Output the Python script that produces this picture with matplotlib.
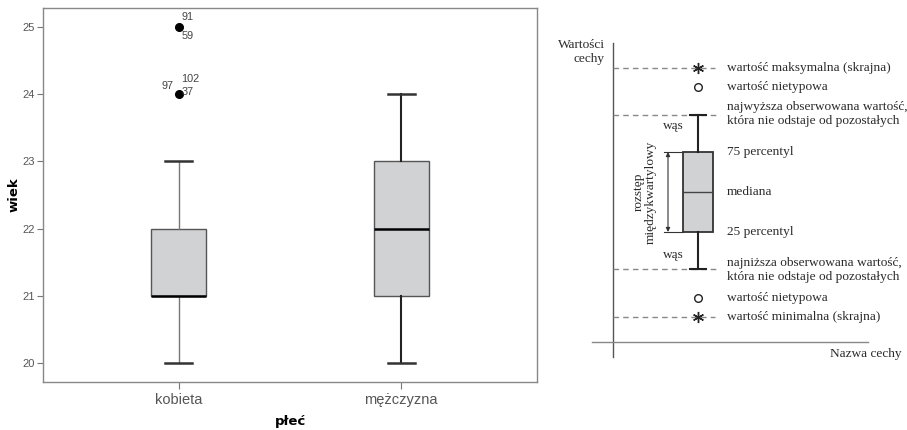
import numpy as np
import matplotlib.pyplot as plt
from matplotlib.patches import FancyArrowPatch

# dane wykresu pudełkowego (wiek wg płci)
kategorie = ["kobieta", "mężczyzna"]
min_wasy = [20, 20]
q1 = [21, 21]
mediany = [21, 22]
q3 = [22, 23]
max_wasy = [23, 24]
odstajace = [[25, 24], []]
odst_wartosci = [25, 25, 24, 24, 24]
odst_numery = ["91", "59", "102", "37", "97"]
y_ticks = [20, 21, 22, 23, 24, 25]

# schemat (wartości umowne)
sch_min, sch_nt_dol, sch_was_dol = 1.25, 2.2, 3.65
sch_q1, sch_med, sch_q3 = 5.5, 7.5, 9.5
sch_was_gora, sch_nt_gora, sch_max = 11.35, 12.75, 13.7

fig = plt.figure(figsize=(9.07, 4.30), dpi=100)

# --- lewy wykres ---
ax = fig.add_axes([43/907, 48/430, 494/907, 374/430])
stats = []
for i in range(2):
    stats.append(dict(label=kategorie[i], whislo=min_wasy[i], q1=q1[i], med=mediany[i],
                      q3=q3[i], whishi=max_wasy[i], fliers=odstajace[i]))
bp = ax.bxp(stats, positions=[1, 2], widths=0.247, patch_artist=True, capwidths=0.122,
            boxprops=dict(facecolor="#d1d2d4", edgecolor="#555555", linewidth=1.0),
            medianprops=dict(color="black", linewidth=1.8),
            whiskerprops=dict(color="#222222", linewidth=1.5),
            capprops=dict(color="#333333", linewidth=1.8),
            flierprops=dict(marker="o", markerfacecolor="black", markeredgecolor="black",
                            markersize=5.5))
for w in bp["whiskers"][:2]:
    w.set_color("#777777")
    w.set_linewidth(1.0)

offsety = [(2, 7), (2, -6.5), (2, 11), (2, 1.5), (-4, 6)]
for v, n, off in zip(odst_wartosci, odst_numery, offsety):
    ax.annotate(n, (1, v), xytext=off, textcoords="offset points",
                ha="left" if off[0] > 0 else "right", va="center",
                fontsize=7.8, color="#444444", family="Liberation Sans")

ax.set_xlim(0.389, 2.611)
ax.set_ylim(19.72, 25.28)
ax.set_yticks(y_ticks)
ax.set_yticklabels([str(t) for t in y_ticks], fontsize=8, color="#555555",
                   family="Liberation Sans")
ax.set_xticks([1, 2])
ax.set_xticklabels(kategorie, fontsize=10.5, color="#555555", family="Liberation Sans")
ax.tick_params(axis="y", length=4, color="#777777", pad=2)
ax.tick_params(axis="x", length=5, color="#777777", pad=3)
for s in ax.spines.values():
    s.set_color("#888888")
    s.set_linewidth(1.0)
ax.set_ylabel("wiek", fontsize=9.5, fontweight="bold", family="DejaVu Sans", labelpad=1)
ax.set_xlabel("płeć", fontsize=9.5, fontweight="bold", family="DejaVu Sans", labelpad=6)

# --- prawy schemat ---
ax2 = fig.add_axes([560/907, 60/430, 347/907, 350/430])
ax2.set_xlim(0, 347)
ax2.set_ylim(-1.4, 16.1)
ax2.axis("off")

kol = "#2a2a2a"
serif = "Liberation Serif"
fs = 9.6

ax2.plot([53, 53], [-0.75, 14.95], color="#555555", lw=1.0)
ax2.plot([32, 308], [0, 0], color="#888888", lw=1.0)

ax2.text(45, 14.5, "Wartości\ncechy", ha="right", va="center", multialignment="right",
         fontsize=fs, color=kol, family=serif, linespacing=1.15)
ax2.text(342, -0.6, "Nazwa cechy", ha="right", va="center", fontsize=fs, color=kol, family=serif)

dash = dict(color="#888888", lw=1.0, ls=(0, (4, 3)))
ax2.plot([53, 155], [sch_max, sch_max], **dash)
ax2.plot([53, 155], [sch_min, sch_min], **dash)
ax2.plot([53, 160], [sch_was_gora, sch_was_gora], **dash)
ax2.plot([53, 160], [sch_was_dol, sch_was_dol], **dash)

ax2.bxp([dict(whislo=sch_was_dol, q1=sch_q1, med=sch_med, q3=sch_q3, whishi=sch_was_gora,
              fliers=[])], positions=[138], widths=30, capwidths=16, patch_artist=True,
        boxprops=dict(facecolor="#d1d2d4", edgecolor="#333333", linewidth=1.3),
        medianprops=dict(color="#444444", linewidth=1.0),
        whiskerprops=dict(color="#222222", linewidth=1.5),
        capprops=dict(color="#222222", linewidth=1.5), manage_ticks=False)

ax2.plot([138, 138], [sch_max, sch_min], ls="none", marker=(6, 2, 0), markersize=8,
         color="#222222", markeredgewidth=1.0)
ax2.plot([138, 138], [sch_nt_gora, sch_nt_dol], ls="none", marker="o", markersize=5.5,
         markerfacecolor="none", markeredgecolor="#222222", markeredgewidth=1.0)

# rozstęp międzykwartylowy
ax2.plot([104, 123], [sch_q3, sch_q3], color="#333333", lw=0.8)
ax2.plot([104, 123], [sch_q1, sch_q1], color="#333333", lw=0.8)
ax2.add_patch(FancyArrowPatch((108, sch_q1), (108, sch_q3), arrowstyle="<|-|>",
                              mutation_scale=6, color="#333333", lw=0.8,
                              shrinkA=0, shrinkB=0))
ax2.text(85, sch_med, "rozstęp\nmiędzykwartylowy", rotation=90, ha="center", va="center",
         fontsize=fs, color=kol, family=serif, linespacing=1.0)

ax2.text(113, 10.8, "wąs", ha="center", va="center", fontsize=fs, color=kol, family=serif)
ax2.text(113, 4.35, "wąs", ha="center", va="center", fontsize=fs, color=kol, family=serif)

tx = 167
opisy = [(sch_max, "wartość maksymalna (skrajna)"),
         (sch_nt_gora, "wartość nietypowa"),
         (11.4, "najwyższa obserwowana wartość,\nktóra nie odstaje od pozostałych"),
         (sch_q3, "75 percentyl"),
         (sch_med, "mediana"),
         (sch_q1, "25 percentyl"),
         (3.6, "najniższa obserwowana wartość,\nktóra nie odstaje od pozostałych"),
         (sch_nt_dol, "wartość nietypowa"),
         (sch_min, "wartość minimalna (skrajna)")]
for y, t in opisy:
    ax2.text(tx, y, t, ha="left", va="center", fontsize=fs, color=kol, family=serif,
             linespacing=1.2, clip_on=False)

fig.savefig("out.png", dpi=100)
